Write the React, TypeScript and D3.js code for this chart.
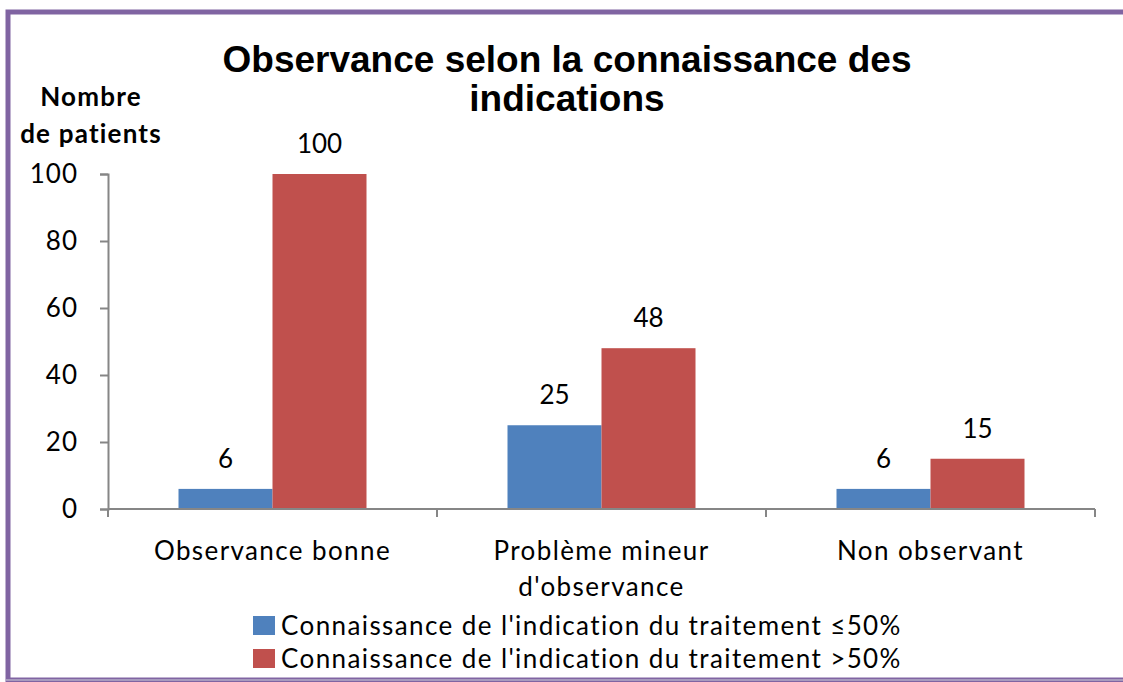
import React, { useRef, useEffect } from "react";
import * as d3 from "d3";

const categories = ["Observance bonne", "Problème mineur\nd'observance", "Non observant"];
const seriesNames = [
  "Connaissance de l'indication du traitement ≤50%",
  "Connaissance de l'indication du traitement >50%",
];
const lowValues = [6, 25, 6];
const highValues = [100, 48, 15];
const yTicks = [0, 20, 40, 60, 80, 100];
const colors = ["#4F81BD", "#C0504D"];

const FONT = "Lato, 'Open Sans', sans-serif";
const SPACING = 1.4;

const App: React.FC = () => {
  const ref = useRef<SVGSVGElement | null>(null);

  useEffect(() => {
    const width = 1123;
    const height = 682;
    const svg = d3.select(ref.current);
    svg.selectAll("*").remove();
    svg.attr("width", width).attr("height", height);

    // frame
    svg
      .append("rect")
      .attr("x", 8)
      .attr("y", 12)
      .attr("width", 1140)
      .attr("height", 668)
      .attr("fill", "#fff")
      .attr("stroke", "#8064A2")
      .attr("stroke-width", 5);
    svg
      .append("line")
      .attr("x1", 6)
      .attr("x2", 1123)
      .attr("y1", 680)
      .attr("y2", 680)
      .attr("stroke", "#A89BBE")
      .attr("stroke-width", 2);

    const left = 108;
    const right = 1095;
    const top = 174;
    const bottom = 509;

    const x0 = d3.scaleBand<number>().domain(d3.range(categories.length)).range([left, right]);
    const x1 = d3
      .scaleBand<number>()
      .domain([0, 1])
      .range([0, x0.bandwidth()])
      .paddingOuter(0.75)
      .paddingInner(0);
    const y = d3.scaleLinear().domain([0, 100]).range([bottom, top]);

    // title
    const title = svg
      .append("text")
      .attr("text-anchor", "middle")
      .attr("font-family", "'Liberation Sans', Arial, sans-serif")
      .attr("font-weight", "bold")
      .attr("font-size", 37)
      .attr("fill", "#000");
    title.append("tspan").attr("x", 567).attr("y", 72).text("Observance selon la connaissance des");
    title.append("tspan").attr("x", 567).attr("y", 111).text("indications");

    // y label
    const ylab = svg
      .append("text")
      .attr("text-anchor", "middle")
      .attr("font-family", FONT)
      .attr("font-weight", "bold")
      .attr("font-size", 26)
      .attr("letter-spacing", 1.2)
      .attr("fill", "#000");
    ylab.append("tspan").attr("x", 91).attr("y", 106).text("Nombre");
    ylab.append("tspan").attr("x", 91).attr("y", 143).text("de patients");

    // bars
    const series = [lowValues, highValues];
    series.forEach((vals, s) => {
      const g = svg.append("g");
      g.selectAll("rect")
        .data(vals)
        .enter()
        .append("rect")
        .attr("x", (_, i) => x0(i)! + x1(s)!)
        .attr("y", (d) => y(d))
        .attr("width", x1.bandwidth())
        .attr("height", (d) => bottom - y(d))
        .attr("fill", colors[s]);
      g.selectAll("text")
        .data(vals)
        .enter()
        .append("text")
        .attr("x", (_, i) => x0(i)! + x1(s)! + x1.bandwidth() / 2)
        .attr("y", (d) => y(d) - 21)
        .attr("text-anchor", "middle")
        .attr("font-family", FONT)
        .attr("font-size", 26)
        .attr("fill", "#000")
        .text((d) => d);
    });

    // y axis
    const yAxis = svg
      .append("g")
      .attr("transform", `translate(${left},0)`)
      .call(d3.axisLeft(y).tickValues(yTicks).tickSize(8).tickPadding(22) as any);
    yAxis.select(".domain").attr("stroke", "#868686").attr("stroke-width", 2);
    yAxis.selectAll(".tick line").attr("stroke", "#868686").attr("stroke-width", 2);
    yAxis
      .selectAll(".tick text")
      .attr("font-family", FONT)
      .attr("font-size", 26)
      .attr("letter-spacing", 1)
      .attr("fill", "#000");

    // x axis
    const xg = svg.append("g");
    xg.append("line")
      .attr("x1", left)
      .attr("x2", right)
      .attr("y1", bottom)
      .attr("y2", bottom)
      .attr("stroke", "#868686")
      .attr("stroke-width", 2);
    const xTickPos = d3.range(categories.length + 1).map((i) => (i < categories.length ? x0(i)! : right));
    xg.selectAll("line.t")
      .data(xTickPos)
      .enter()
      .append("line")
      .attr("class", "t")
      .attr("x1", (d) => d)
      .attr("x2", (d) => d)
      .attr("y1", bottom)
      .attr("y2", bottom + 8)
      .attr("stroke", "#868686")
      .attr("stroke-width", 2);
    categories.forEach((c, i) => {
      const t = xg
        .append("text")
        .attr("text-anchor", "middle")
        .attr("font-family", FONT)
        .attr("font-size", 26)
        .attr("letter-spacing", SPACING)
        .attr("fill", "#000");
      c.split("\n").forEach((line, j) => {
        t.append("tspan")
          .attr("x", x0(i)! + x0.bandwidth() / 2)
          .attr("y", 560 + j * 36)
          .text(line);
      });
    });

    // legend
    const lg = svg.append("g");
    seriesNames.forEach((name, i) => {
      lg.append("rect")
        .attr("x", 253)
        .attr("y", 616 + i * 33)
        .attr("width", 22)
        .attr("height", 19)
        .attr("fill", colors[i]);
      lg.append("text")
        .attr("x", 281)
        .attr("y", 635 + i * 33)
        .attr("font-family", FONT)
        .attr("font-size", 26)
        .attr("letter-spacing", SPACING)
        .attr("fill", "#000")
        .text(name);
    });
  }, []);

  return (
    <div style={{ position: "absolute", left: 0, top: 0 }}>
      <svg ref={ref} style={{ display: "block" }} />
    </div>
  );
};

export default App;
